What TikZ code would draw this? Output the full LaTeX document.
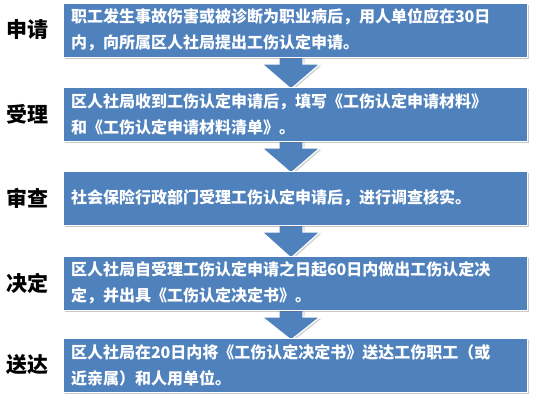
\documentclass[tikz,border=0pt]{standalone}
\usepackage{fontspec}
\newfontfamily\cjk{Noto Sans CJK SC}
\usetikzlibrary{calc,shadows}
\definecolor{boxblue}{RGB}{79,129,189}
\tikzset{
  stepbox/.style={fill=boxblue, draw=white, line width=0.8pt, minimum width=464pt, minimum height=54pt,
    text width=448pt, align=left, inner sep=0pt, text=white,
    font=\cjk\bfseries\fontsize{16}{26}\selectfont,
    drop shadow={shadow xshift=2pt, shadow yshift=-2pt, opacity=0.35, fill=black!60}},
  steplabel/.style={font=\cjk\bfseries\fontsize{21}{24}\selectfont, text=black, inner sep=0pt},
  arr/.style={fill=boxblue, draw=white, line width=1.2pt, line join=miter,
    drop shadow={shadow xshift=1.5pt, shadow yshift=-1.5pt, opacity=0.3, fill=black!60}}
}
\begin{document}
\begin{tikzpicture}[x=1pt,y=-1pt]
\useasboundingbox (0,0) rectangle (534,400);
\coordinate (c1) at (295,30);
\coordinate (c2) at (295,114);
\coordinate (c3) at (295,198);
\coordinate (c4) at (295,283);
\coordinate (c5) at (295,365);
\foreach \a/\b in {1/2,2/3,3/4,4/5}{
  \draw[arr] ($(c\a)+(-16,27)$) -- ($(c\a)+(-16,34)$) -- ($(c\a)+(-33,34)$)
    -- ($(c\b)+(-4,-25)$) -- ($(c\a)+(25,34)$) -- ($(c\a)+(8,34)$) -- ($(c\a)+(8,27)$) -- cycle;
}
\node[stepbox] (b1) at (c1) {职工发生事故伤害或被诊断为职业病后，用人单位应在30日\\内，向所属区人社局提出工伤认定申请。};
\node[stepbox] (b2) at (c2) {区人社局收到工伤认定申请后，填写《工伤认定申请材料》\\和《工伤认定申请材料清单》。};
\node[stepbox] (b3) at (c3) {社会保险行政部门受理工伤认定申请后，进行调查核实。};
\node[stepbox] (b4) at (c4) {区人社局自受理工伤认定申请之日起60日内做出工伤认定决\\定，并出具《工伤认定决定书》。};
\node[stepbox] (b5) at (c5) {区人社局在20日内将《工伤认定决定书》送达工伤职工（或\\近亲属）和人用单位。};
\node[steplabel] (l1) at (27,30) {申请};
\node[steplabel] (l2) at (27,114) {受理};
\node[steplabel] (l3) at (27,198) {审查};
\node[steplabel] (l4) at (27,283) {决定};
\node[steplabel] (l5) at (27,365) {送达};
\end{tikzpicture}
\end{document}
